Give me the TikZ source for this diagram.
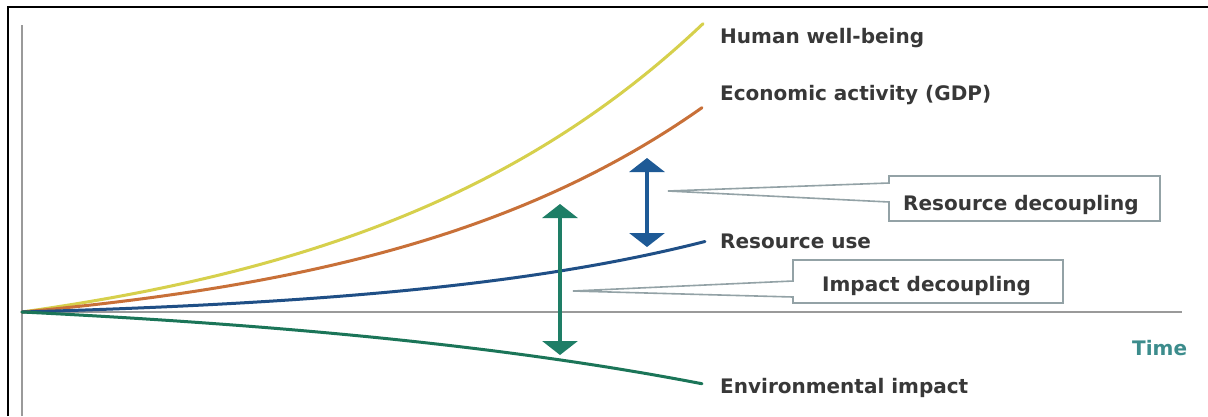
\documentclass[tikz,border=0pt]{standalone}
\usepackage{fontspec}
\setmainfont{DejaVu Sans}
\usetikzlibrary{arrows.meta}
\definecolor{cyellow}{HTML}{D6D04C}
\definecolor{corange}{HTML}{C87038}
\definecolor{cblue}{HTML}{1F4F86}
\definecolor{cgreen}{HTML}{1B7558}
\definecolor{abblue}{HTML}{1E5A96}
\definecolor{abgreen}{HTML}{1E7E66}
\definecolor{axisgray}{HTML}{9A9A9A}
\definecolor{callgray}{HTML}{93A2A6}
\definecolor{txtgray}{HTML}{383838}
\definecolor{timeteal}{HTML}{3C8C8C}
\tikzset{
  frame/.style={black, line width=2pt},
  axisline/.style={axisgray, line width=2.6pt},
  curve/.style={line width=3pt, line cap=round},
  dblarrow/.style={line width=4pt, {Triangle[width=35pt,length=14pt]}-{Triangle[width=35pt,length=14pt]}},
  callout/.style={callgray, line width=1.6pt, line join=miter, fill=white},
  lbl/.style={font=\bfseries\fontsize{20}{24}\selectfont, text=txtgray, inner sep=0pt, anchor=base west},
}
\begin{document}
\begin{tikzpicture}[x=1pt,y=-1pt]
\useasboundingbox (0,0) rectangle (1208,416);
\fill[white] (0,0) rectangle (1208,416);
% outer frame (left and top only visible)
\coordinate (fbl) at (8,416);
\coordinate (ftl) at (8,7);
\coordinate (ftr) at (1208,7);
\draw[frame] (fbl) -- (ftl) -- (ftr);
% axes
\coordinate (O) at (22,312);
\coordinate (ytop) at (22,25);
\coordinate (ybot) at (22,416);
\coordinate (xend) at (1182,312);
\draw[axisline] (ybot) -- (ytop);
\draw[axisline] (O) -- (xend);
% curves
\draw[curve, cyellow] plot[domain=22:703, samples=90, smooth] (\x, {312-50*(exp(0.0028*(\x-22))-1)});
\draw[curve, corange] plot[domain=22:702, samples=90, smooth] (\x, {312-30.4*(exp(0.003*(\x-22))-1)});
\draw[curve, cblue] plot[domain=22:705, samples=90, smooth] (\x, {312-8.9*(exp(0.0032*(\x-22))-1)});
\draw[curve, cgreen] plot[domain=22:702, samples=90, smooth] (\x, {312+24.8*(exp(0.002*(\x-22))-1)});
% curve labels
\node[lbl] (hw) at (720,43) {Human well-being};
\node[lbl] (gdp) at (720,100) {Economic activity (GDP)};
\node[lbl] (ru) at (720,248) {Resource use};
\node[lbl] (ei) at (720,393) {Environmental impact};
\node[lbl, text=timeteal] (time) at (1132,355) {Time};
% callout: resource decoupling
\coordinate (rtip) at (668,191);
\coordinate (ra) at (889,183);
\coordinate (rtl) at (889,176);
\coordinate (rtr) at (1160,176);
\coordinate (rbr) at (1160,221);
\coordinate (rbl) at (889,221);
\coordinate (rb) at (889,202);
\draw[callout] (rtip) -- (ra) -- (rtl) -- (rtr) -- (rbr) -- (rbl) -- (rb) -- cycle;
\node[lbl] (rdtext) at (903,210) {Resource decoupling};
% callout: impact decoupling
\coordinate (itip) at (573,291);
\coordinate (ia) at (793,281);
\coordinate (itl) at (793,260);
\coordinate (itr) at (1063,260);
\coordinate (ibr) at (1063,303);
\coordinate (ibl) at (793,303);
\coordinate (ib) at (793,297);
\draw[callout] (itip) -- (ia) -- (itl) -- (itr) -- (ibr) -- (ibl) -- (ib) -- cycle;
\node[lbl] (idtext) at (822,291) {Impact decoupling};
% double arrows
\coordinate (bat) at (647,158);
\coordinate (bab) at (647,247);
\draw[dblarrow, abblue] (bat) -- (bab);
\coordinate (gat) at (560,204);
\coordinate (gab) at (560,355);
\draw[dblarrow, abgreen] (gat) -- (gab);
\end{tikzpicture}
\end{document}
